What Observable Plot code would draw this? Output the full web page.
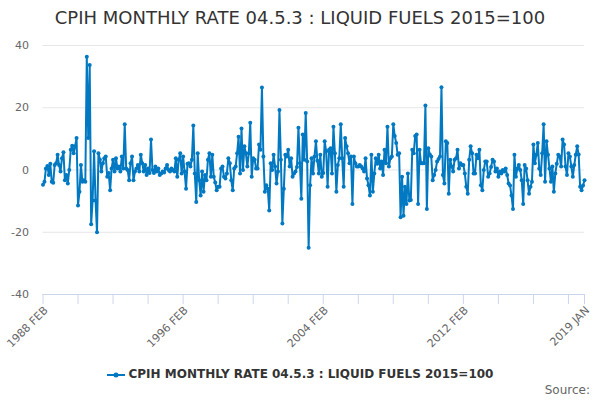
<!DOCTYPE html>
<html>
<head>
<meta charset="utf-8">
<script src="https://cdn.jsdelivr.net/npm/d3@7"></script>
<script src="https://cdn.jsdelivr.net/npm/@observablehq/plot@0.6"></script>
<style>
  html, body { margin: 0; padding: 0; background: #fff; }
  #wrap { position: relative; width: 600px; height: 400px; overflow: hidden; font-family: "DejaVu Sans", sans-serif; }
  #title { position: absolute; left: 0; top: 0; width: 600px; height: 36px; line-height: 36px; text-align: center; font-size: 18px; color: #333; }
  #chart { position: absolute; left: 0; top: 34px; }
  #chart svg { overflow: visible; }
  #legend { position: absolute; left: 0; top: 365px; width: 600px; text-align: center; font-size: 12px; font-weight: bold; color: #333; line-height: 18px; }
  #legend svg { vertical-align: middle; margin-right: 4px; }
  #source { position: absolute; right: 10px; top: 381px; font-size: 12px; color: #666; line-height: 18px; }
</style>
</head>
<body>
<div id="wrap">
  <div id="title">CPIH MONTHLY RATE 04.5.3 : LIQUID FUELS 2015=100</div>
  <div id="chart"></div>
  <div id="legend"><svg width="18" height="10"><line x1="0" y1="5" x2="18" y2="5" stroke="#0079c2" stroke-width="2"/><circle cx="9" cy="5" r="2.5" fill="#0079c2"/></svg>CPIH MONTHLY RATE 04.5.3 : LIQUID FUELS 2015=100</div>
  <div id="source">Source:</div>
</div>
<script>
const seriesName = "CPIH MONTHLY RATE 04.5.3 : LIQUID FUELS 2015=100";
const startYear = 1988;
const startMonth = 1; // 0-based: FEB
const monthNames = ["JAN","FEB","MAR","APR","MAY","JUN","JUL","AUG","SEP","OCT","NOV","DEC"];
const values = [
  -4.7, -3.8, 0.5, 1.3, -1.6, 2.0, -3.8, -4.1, 1.6, 2.2, 4.9, 1.6,
  -0.5, 3.8, 5.7, -3.3, -1.6, -4.3, 0, 6.5, 7.8, 5.4, 7.6, 10.3,
  -11.4, -7, 1.6, -3.8, -3.3, -3.8, 36.4, 10.3, 33.7, -17.4, -9.8, 6,
  -9.8, -20, 5.4, 3.3, -0.5, 2.2, 3.8, 4.3, -2.2, -1, -6.5, 0.5,
  3.3, -0.5, 3.8, 0.5, 1.1, -0.5, 4.3, 0.5, 14.7, 0.5, 0, -3.3,
  2.2, 4.3, -3.3, -0.5, 0.5, 1.6, -0.5, 4.9, 2.2, -0.5, 1.6, -1.6,
  0.5, -1, 9.8, 0, -1, 1.1, -0.5, 0.5, -1.6, -1.1, -0.5, -0.8,
  0.5, 1.6, 0, -0.5, 0.5, 0, -0.5, 3.8, -2.2, 3.3, 5.4, -1.1,
  4.3, -0.5, -6, 2, 2.2, 1.1, 3.3, 14.3, -1.1, -10.3, 5.4, -3.3,
  -8.2, -0.5, -7, -1.6, -3.3, 3.3, 5.4, -2.2, 4.9, -2.2, -4, -6.5,
  -5.4, -5.4, 0.5, 1.1, -2.2, -2.7, -1.1, 3.8, 2.2, -3.3, -6.5, 0.5,
  1.1, 5.4, 10.7, -1.1, 13.3, 0, 7.6, 5.4, 1.1, 5.4, 15.2, -2.2,
  3.8, 3.3, 0.5, 0.5, 8.2, 6.5, 26.5, 4.3, -7, -4.9, -6, -13,
  2.2, 0, 4.9, 1.1, -4.3, -0.5, 19.3, 3.3, -17.2, -6, 4.9, 4.3,
  6.5, 1.1, 3.8, -2.2, -1.1, -0.5, 1.0, 13.6, 2.2, -9.2, 11.4, 3.3,
  18.3, 2.7, -25, -4.9, 3.8, -1.1, 4.3, 9.2, 3, -1.1, 4.9, -2.2,
  -1, 9.2, 6, -5.4, 6.5, 7, -1.1, 13.9, 5.4, -7, 1.6, 3.8,
  14.7, 3.8, -5.4, 10.3, 7.6, 5.4, 2.2, 4.3, -10.9, 4.3, 2.2, 1.1,
  1.1, 1.6, 1.1, 0.5, -0.5, 3.8, -2.7, -4.9, -8.2, 4.9, -7, -1.1,
  3.8, 2, 4.9, 0.5, 2.7, -1.6, 6.5, 2.2, 13.9, 1.1, 3.8, 4.3,
  14.7, 10.9, 8.7, 4.9, 5.4, -15.2, -2.2, -14.7, -5.4, -10.9, -1.1, -9.8,
  -9.6, 6.5, 5.4, 10.9, 11.4, -10.9, 6.5, 2.2, 2.2, 2.2, 20.7, -12.5,
  7, 5, 4.3, -3.3, -1.6, 0, 2.7, 3.5, 4.3, 26.6, -1.6, -4.3,
  9.2, 8.7, -7.6, 3.3, 1.1, -0.5, 3.3, 3.8, 6.5, 0.5, 2.2, 1.6,
  1.6, -1.1, -5.4, -7.6, 3.3, 7.6, 5.4, -1.1, -1.1, 4.9, 3.8, 6.5,
  -4.9, -6.5, 0, 2.7, 2.7, -2.2, -1.1, 1, 3.3, 2.7, -0.5, 0.5,
  -2.2, -0.5, -1.1, 0, -0.5, 0.5, -1.6, -4.3, -5, -8.2, -12.5, 4.9,
  -2.2, 0.5, 1.6, 0, -3.3, -10.9, 1.6, 0.5, -3.3, -7.6, -5.4, -3.8,
  8.2, 2.2, 4.9, 8.7, 0.5, -1.6, 5.4, 14.7, -3.8, 9.2, 4.9, 0.5,
  -3.8, 1.1, -7, -1.1, 2, 4.9, 4.3, 1.1, 9.8, 8.2, 1.1, -1.6,
  5.4, 4.3, 1.1, -2.2, 1.6, 4.9, 7.6, 5, -5.4, -6.5, -5, -3.3
];
const yTicks = [-40, -20, 0, 20, 40];
const xTickLabels = ["1988 FEB", "1996 FEB", "2004 FEB", "2012 FEB", "2019 JAN"];

const monthLabel = i => {
  const m = startMonth + i;
  return (startYear + Math.floor(m / 12)) + " " + monthNames[m % 12];
};
const data = values.map((v, i) => ({i, label: monthLabel(i), value: v}));
const n = data.length;
const tickIdx = [];
for (let i = 0; i < n; i += 24) tickIdx.push(i);
tickIdx.push(n - 1);
const labelIdx = data.filter(d => xTickLabels.includes(d.label)).map(d => d.i);
const labelOf = new Map(data.map(d => [d.i, d.label]));

const color = "#0079c2";
const chart = Plot.plot({
  width: 600,
  height: 330,
  marginTop: 11,
  marginBottom: 70,
  marginLeft: 42.5,
  marginRight: 16,
  style: {fontFamily: "DejaVu Sans, sans-serif", background: "transparent", overflow: "visible"},
  x: {type: "linear", domain: [0, n - 1], axis: null},
  y: {domain: [-40, 40], axis: null},
  marks: [
    Plot.ruleY(yTicks.filter(t => t !== -40), {stroke: "#e6e6e6", strokeWidth: 1}),
    Plot.ruleY([-40], {stroke: "#ccd6eb", strokeWidth: 1}),
    Plot.axisY({ticks: yTicks, tickSize: 0, tickPadding: 14, fontSize: 11, fill: "#666", stroke: "none", label: null, tickFormat: d => String(d)}),
    Plot.axisX({ticks: tickIdx, tickSize: 10, stroke: "#ccd6eb", fill: "none", label: null, tickFormat: () => ""}),
    Plot.text(labelIdx, {x: d => d, y: -40, text: d => labelOf.get(d), rotate: -45, textAnchor: "end", dx: 3, dy: 14, fontSize: 11, fill: "#666"}),
    Plot.line(data, {x: "i", y: "value", stroke: color, strokeWidth: 2, curve: "linear"}),
    Plot.dot(data, {x: "i", y: "value", r: 2, fill: color, stroke: "none"})
  ]
});
document.getElementById("chart").appendChild(chart);
</script>
</body>
</html>
